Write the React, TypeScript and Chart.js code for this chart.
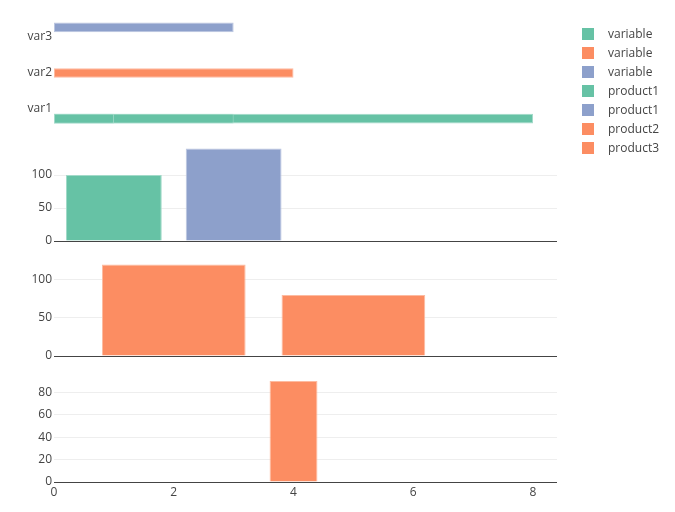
import React, { useEffect, useRef } from "react";
import { Chart, registerables } from "chart.js";

Chart.register(...registerables);

// ---------------- data ----------------
const topCategories = ["var3", "var2", "var1"]; // drawn top -> bottom
const variableGreenVar1 = [8, 3, 1]; // overlapping bars on var1
const variableOrangeVar2 = [4];
const variablePurpleVar3 = [3];

const product1GreenX = [1];
const product1GreenY = [100];
const product1PurpleX = [3];
const product1PurpleY = [140];

const product2X = [2, 5];
const product2Y = [120, 80];

const product3X = [4];
const product3Y = [90];

const legendLabels = ["variable", "variable", "variable", "product1", "product1", "product2", "product3"];

// ---------------- styles ----------------
const GREEN = "#66c2a5";
const ORANGE = "#fc8d62";
const PURPLE = "#8da0cb";
const legendColors = [GREEN, ORANGE, PURPLE, GREEN, PURPLE, ORANGE, ORANGE];

const FONT = '"Open Sans", verdana, arial, sans-serif';
Chart.defaults.font.family = FONT;
Chart.defaults.font.size = 12;
Chart.defaults.color = "#444";

function lighten(hex: string, t: number) {
  const n = parseInt(hex.slice(1), 16);
  const r = (n >> 16) & 255, g = (n >> 8) & 255, b = n & 255;
  const m = (c: number) => Math.round(c + (255 - c) * t);
  return `rgb(${m(r)},${m(g)},${m(b)})`;
}

const W = 675;
const PLOT_LEFT = 54;
const PLOT_RIGHT = 557;
const X_MAX = 8.4;

const yAxisFit = (s: any) => {
  s.width = PLOT_LEFT;
};
const noTicks = (s: any) => {
  s.ticks = [];
};
const gridColor = (ctx: any) => (ctx.tick && ctx.tick.value === 0 ? "#444" : "#eeeeee");

function pts(xs: number[], ys: number[]) {
  return xs.map((x, i) => ({ x, y: ys[i] }));
}

function barStyle(color: string, skip: any) {
  return {
    backgroundColor: color,
    borderColor: lighten(color, 0.4),
    borderWidth: 1,
    borderSkipped: skip,
  };
}

function basePlugins() {
  return { legend: { display: false }, tooltip: { enabled: false } };
}

function verticalPanel(datasets: any[], yMax: number, step: number, showX: boolean, barPct: number) {
  return {
    type: "bar",
    data: { datasets },
    options: {
      animation: false,
      responsive: false,
      devicePixelRatio: 1,
      layout: { padding: { left: 0, right: W - PLOT_RIGHT, top: 10, bottom: 10 } },
      datasets: { bar: { categoryPercentage: 1, barPercentage: barPct, grouped: false } },
      plugins: basePlugins(),
      scales: {
        x: showX
          ? {
              type: "linear",
              min: 0,
              max: X_MAX,
              offset: false,
              ticks: { stepSize: 2, includeBounds: false, padding: 3, maxRotation: 0, color: "#444" },
              grid: { display: false, drawTicks: false, offset: false },
              border: { display: false },
              afterFit: (s: any) => {
                s.height = 20;
              },
            }
          : { type: "linear", min: 0, max: X_MAX, offset: false, display: false, afterBuildTicks: noTicks },
        y: {
          type: "linear",
          min: 0,
          max: yMax,
          ticks: { stepSize: step, includeBounds: false, padding: 2, color: "#444" },
          grid: { color: gridColor, drawTicks: false, lineWidth: 1 },
          border: { display: false },
          afterFit: yAxisFit,
        },
      },
    },
  };
}

function topPanel() {
  const greenSets = [...variableGreenVar1].reverse().map((v) => ({
    label: "variable",
    data: [{ x: v, y: "var1" }],
    stack: "green",
    ...barStyle(GREEN, false),
  }));
  return {
    type: "bar",
    data: {
      labels: topCategories,
      datasets: [
        { label: "variable", data: variablePurpleVar3.map((v) => ({ x: v, y: "var3" })), stack: "purple", ...barStyle(PURPLE, false) },
        { label: "variable", data: variableOrangeVar2.map((v) => ({ x: v, y: "var2" })), stack: "orange", ...barStyle(ORANGE, false) },
        ...greenSets,
      ],
    },
    options: {
      indexAxis: "y",
      animation: false,
      responsive: false,
      devicePixelRatio: 1,
      layout: { padding: { left: 0, right: W - PLOT_RIGHT, top: 10, bottom: 10 } },
      datasets: { bar: { categoryPercentage: 0.8, barPercentage: 1 } },
      plugins: basePlugins(),
      scales: {
        x: { type: "linear", min: 0, max: X_MAX, offset: false, display: false, stacked: false, afterBuildTicks: noTicks },
        y: {
          type: "category",
          labels: topCategories,
          stacked: true,
          grid: { display: false, drawTicks: false },
          border: { display: false },
          ticks: { padding: 2, color: "#444" },
          afterFit: yAxisFit,
        },
      },
    },
  };
}

function ChartCanvas({ top, height, make }: { top: number; height: number; make: () => any }) {
  const ref = useRef<HTMLCanvasElement | null>(null);
  useEffect(() => {
    if (!ref.current) return;
    const chart = new Chart(ref.current, make());
    return () => chart.destroy();
  }, []);
  return (
    <canvas
      ref={ref}
      width={W}
      height={height}
      style={{ position: "absolute", left: 0, top, width: W, height }}
    />
  );
}

function Legend() {
  return (
    <>
      {legendLabels.map((label, i) => {
        const cy = 33.5 + i * 19.15;
        return (
          <React.Fragment key={i}>
            <div
              style={{
                position: "absolute",
                left: 582,
                top: Math.round(cy - 6),
                width: 12,
                height: 12,
                background: legendColors[i],
              }}
            />
            <div
              style={{
                position: "absolute",
                left: 608,
                top: Math.round(cy - 9),
                height: 18,
                lineHeight: "18px",
                fontFamily: FONT,
                fontSize: 12,
                color: "#444",
                whiteSpace: "nowrap",
              }}
            >
              {label}
            </div>
          </React.Fragment>
        );
      })}
    </>
  );
}

export default function App() {
  return (
    <div style={{ position: "absolute", left: 0, top: 0, width: W, height: 512, background: "#fff", overflow: "hidden" }}>
      <ChartCanvas top={9} height={128} make={topPanel} />
      <ChartCanvas
        top={134}
        height={117}
        make={() =>
          verticalPanel(
            [
              { label: "product1", data: pts(product1GreenX, product1GreenY), ...barStyle(GREEN, "start") },
              { label: "product1", data: pts(product1PurpleX, product1PurpleY), ...barStyle(PURPLE, "start") },
            ],
            147,
            50,
            false,
            0.8
          )
        }
      />
      <ChartCanvas
        top={250}
        height={116}
        make={() =>
          verticalPanel([{ label: "product2", data: pts(product2X, product2Y), ...barStyle(ORANGE, "start") }], 126, 50, false, 0.8)
        }
      />
      <ChartCanvas
        top={366}
        height={146}
        make={() =>
          verticalPanel([{ label: "product3", data: pts(product3X, product3Y), ...barStyle(ORANGE, "start") }], 94.5, 20, true, 0.4)
        }
      />
      <Legend />
    </div>
  );
}
